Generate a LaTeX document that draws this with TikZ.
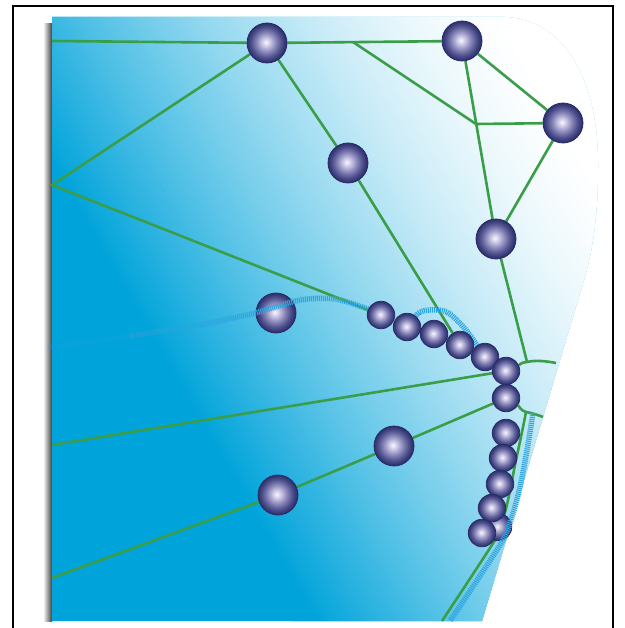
\documentclass[tikz,border=0pt]{standalone}

\definecolor{panelblue}{RGB}{0,163,218}
\definecolor{wire}{RGB}{58,158,72}
\definecolor{hatchblue}{RGB}{45,165,224}
\definecolor{ballhi}{RGB}{248,246,253}
\definecolor{balllt}{RGB}{214,210,236}
\definecolor{ballmid}{RGB}{138,136,186}
\definecolor{balldk}{RGB}{78,80,140}
\definecolor{ballrim}{RGB}{40,44,104}

% glossy sphere
\pgfdeclareradialshading{ballshade}{\pgfpoint{-1.5bp}{1bp}}{%
  color(0bp)=(ballhi); color(4bp)=(balllt); color(12bp)=(ballmid);
  color(19bp)=(balldk); color(25bp)=(ballrim); color(50bp)=(ballrim)}

\pgfdeclarelayer{panel}
\pgfdeclarelayer{wires}
\pgfdeclarelayer{lowball}
\pgfdeclarelayer{hatchlayer}
\pgfdeclarelayer{over}
\pgfsetlayers{panel,wires,lowball,hatchlayer,main,over}

\tikzset{
  bigball/.style={circle, minimum size=40pt, inner sep=0pt, shade, shading=ballshade,
                  draw=ballrim, line width=0.8pt},
  smallball/.style={bigball, minimum size=27.5pt},
  wireline/.style={draw=wire, line width=2.6pt},
  hatchline/.style={draw=hatchblue, line width=5.5pt, dash pattern=on 1.1pt off 0.9pt},
}

\begin{document}
\begin{tikzpicture}[x=1pt,y=-1pt]
\useasboundingbox (0,0) rectangle (624,628);

% ---------- frame, shadow and graded panel ----------
\begin{pgfonlayer}{panel}
  \draw[line width=1.6pt] (13,628) -- (13,6) -- (613,6) -- (613,628);
  \shade[left color=white, right color=black!75] (43,24) rectangle (52,621);
  \begin{scope}
    \clip (52,17) -- (505,17) .. controls (565,20) and (598,80) .. (598,165)
          .. controls (598,230) and (590,262) .. (578,300) -- (482,621) -- (52,621) -- cycle;
    \fill[panelblue] (0,0) rectangle (624,628);
    \begin{scope}[rotate=30]
      \foreach \p in {-60,-56,...,524}{
        \pgfmathsetmacro\tval{max(0.0001,min(1,1-(\p+40)/470))}
        \pgfmathsetmacro\wval{100*(1-\tval^1.5)}
        \fill[white!\wval!panelblue] (\p,-2000) rectangle (\p+8,2000);
      }
    \end{scope}
  \end{scope}
\end{pgfonlayer}

% ---------- spheres ----------
\begin{pgfonlayer}{lowball}
  \node[bigball] (F) at (276,313) {};
\end{pgfonlayer}

\node[smallball] (s1) at (381,315) {};
\node[smallball] (s2) at (407,327) {};
\node[smallball] (s3) at (434,334) {};
\node[smallball] (s4) at (460,345) {};
\node[smallball] (s5) at (485,357) {};
\node[smallball] (s6) at (506,371) {};
\node[smallball] (s7) at (506,398) {};
\node[smallball] (s8) at (506,433) {};
\node[smallball] (s9) at (503,458) {};
\node[smallball] (s10) at (500,484) {};
\node[smallball] (s12) at (498,527) {};
\node[smallball] (s11) at (492,508) {};
\node[smallball] (s13) at (482,533) {};

\node[bigball] (A) at (267,43) {};
\node[bigball] (B) at (462,41) {};
\node[bigball] (C) at (563,123) {};
\node[bigball] (D) at (348,163) {};
\node[bigball] (E) at (496,239) {};
\node[bigball] (G) at (394,446) {};
\node[bigball] (H) at (278,495) {};

% ---------- green links ----------
\coordinate (L0) at (52,41);
\coordinate (K) at (353,42);
\coordinate (J1) at (476,124);
\coordinate (L1) at (52,185);
\coordinate (J2) at (527,362);
\coordinate (R2) at (556,363);
\coordinate (J3) at (526,412);
\coordinate (R3) at (543,417);
\coordinate (L2) at (52,445);
\coordinate (L3) at (52,578);
\coordinate (Bot) at (442,621);

\begin{pgfonlayer}{wires}
  \draw[wireline] (L0) -- (A) -- (B);
  \draw[wireline] (K) -- (J1) -- (C);
  \draw[wireline] (B) -- (E);
  \draw[wireline] (B) -- (C);
  \draw[wireline] (C) -- (E);
  \draw[wireline] (A) -- (L1) -- (s1);
  \draw[wireline] (A) -- (D) -- (s4);
  \draw[wireline] (E) -- (J2);
  \draw[wireline] (s6) .. controls (518,366) and (521,362) .. (J2)
                       .. controls (535,360) and (546,361) .. (R2);
  \draw[wireline] (s7) .. controls (518,405) and (521,411) .. (J3)
                       .. controls (532,413) and (538,415) .. (R3);
  \draw[wireline] (L2) -- (s6);
  \draw[wireline] (L3) -- (H) -- (G) -- (s7);
  \draw[wireline] plot[smooth] coordinates
        {(J3) (522,432) (515,465) (508,500) (500,530) (490,548) (Bot)};
\end{pgfonlayer}

% ---------- hatched tracks ----------
\coordinate (h1a) at (48,347);
\coordinate (h1b) at (130,336);
\coordinate (h1c) at (200,325);
\coordinate (h3a) at (533,413);
\coordinate (h3b) at (450,621);

\begin{pgfonlayer}{hatchlayer}
  \draw[hatchline, line width=4pt, draw opacity=0.3] (h1a) -- (h1b);
  \draw[hatchline, line width=5pt, draw opacity=0.65] (h1b) -- (h1c);
  \draw[hatchline] plot[smooth] coordinates
        {(h1c) (255,313) (300,300) (335,299) (365,308) (s1)};
  \draw[hatchline] plot[smooth] coordinates
        {(s2) (420,312) (438,310) (450,314) (466,330) (s5)};
\end{pgfonlayer}

\begin{pgfonlayer}{over}
  \draw[hatchline] plot[smooth] coordinates
        {(h3a) (527,450) (520,487) (511,520) (500,545) (h3b)};
\end{pgfonlayer}

\end{tikzpicture}
\end{document}
